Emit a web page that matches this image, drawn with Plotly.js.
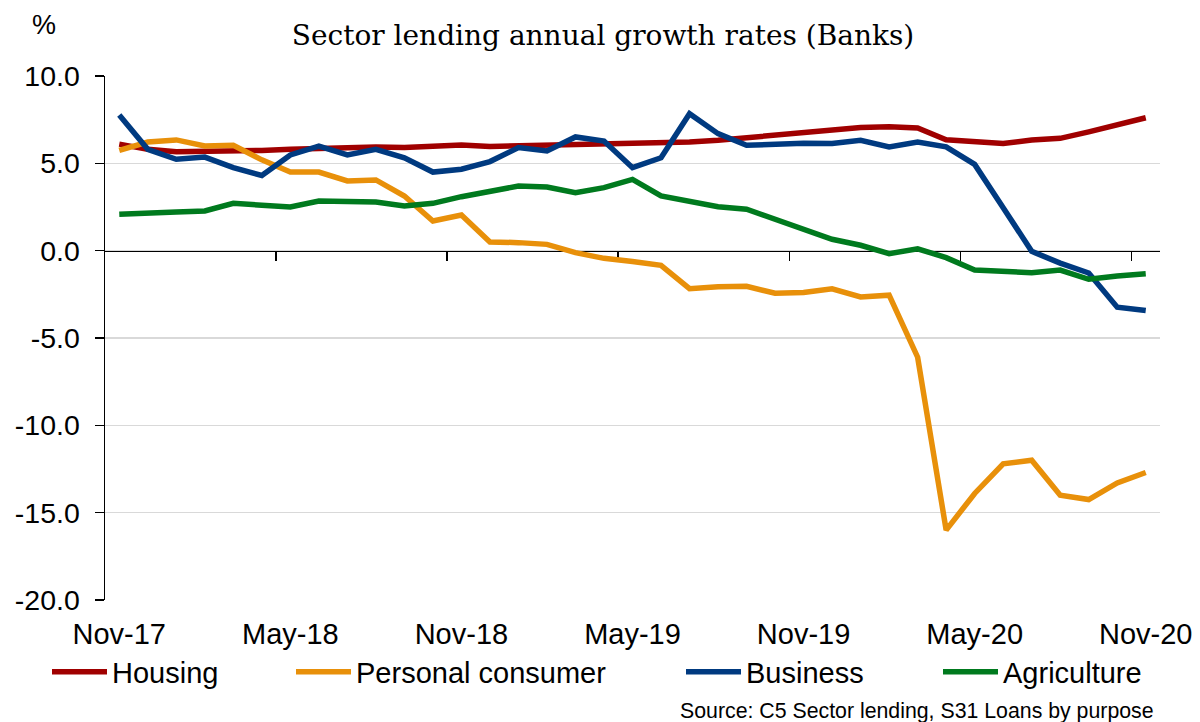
<!DOCTYPE html>
<html>
<head>
<meta charset="utf-8">
<script src="https://cdn.plot.ly/plotly-3.0.1.min.js"></script>
<style>html,body{margin:0;padding:0;background:#fff;}#chart{width:1200px;height:722px;}</style>
</head>
<body>
<div id="chart"></div>
<script>
const months = ['Nov-17','Dec-17','Jan-18','Feb-18','Mar-18','Apr-18','May-18','Jun-18','Jul-18','Aug-18','Sep-18','Oct-18',
  'Nov-18','Dec-18','Jan-19','Feb-19','Mar-19','Apr-19','May-19','Jun-19','Jul-19','Aug-19','Sep-19','Oct-19',
  'Nov-19','Dec-19','Jan-20','Feb-20','Mar-20','Apr-20','May-20','Jun-20','Jul-20','Aug-20','Sep-20','Oct-20','Nov-20'];
const tickLabels = ['Nov-17','May-18','Nov-18','May-19','Nov-19','May-20','Nov-20'];
const housing = [6.1,5.8,5.67,5.67,5.7,5.74,5.8,5.84,5.86,5.94,5.9,5.94,6.05,5.97,6.0,6.03,6.09,6.09,6.15,6.18,6.22,6.32,6.47,6.62,6.76,6.95,7.05,7.1,7.02,6.35,6.25,6.13,6.34,6.43,6.8,7.23,7.61];
const personal = [5.74,6.22,6.34,5.99,6.03,5.2,4.5,4.5,3.99,4.05,3.13,1.7,2.04,0.5,0.46,0.36,-0.11,-0.44,-0.62,-0.84,-2.18,-2.06,-2.04,-2.44,-2.4,-2.18,-2.65,-2.55,-6.1,-16.0,-13.9,-12.2,-12.0,-14.0,-14.25,-13.3,-12.7];
const business = [7.77,5.8,5.23,5.36,4.75,4.31,5.48,5.99,5.48,5.8,5.32,4.5,4.66,5.1,5.9,5.71,6.51,6.28,4.75,5.32,7.84,6.7,6.03,6.09,6.15,6.13,6.32,5.94,6.22,5.94,4.94,2.46,-0.04,-0.71,-1.28,-3.24,-3.43];
const agriculture = [2.08,2.18,2.21,2.27,2.71,2.6,2.5,2.84,2.79,2.79,2.56,2.71,3.09,3.42,3.7,3.64,3.32,3.61,4.08,3.13,2.84,2.52,2.37,1.79,1.22,0.65,0.31,-0.17,0.11,-0.4,-1.11,-1.22,-1.26,-1.11,-1.64,-1.45,-1.32];
const boundaryTicks = [5.5,11.5,17.5,23.5,29.5,35.5];

const LW = 5.5;
const traces = [
  {x: months, y: housing, name: 'Housing', type: 'scatter', mode: 'lines', line: {color: '#A00000', width: LW}, legend: 'legend'},
  {x: months, y: personal, name: 'Personal consumer', type: 'scatter', mode: 'lines', line: {color: '#E8900A', width: LW}, legend: 'legend2'},
  {x: months, y: business, name: 'Business', type: 'scatter', mode: 'lines', line: {color: '#003A80', width: LW}, legend: 'legend3'},
  {x: months, y: agriculture, name: 'Agriculture', type: 'scatter', mode: 'lines', line: {color: '#007A1E', width: LW}, legend: 'legend4'},
  {x: [0], y: [null], xaxis: 'x2', yaxis: 'y', showlegend: false, hoverinfo: 'skip', mode: 'lines'}
];

const legFont = {family: 'Liberation Sans, Arial, sans-serif', size: 29, color: '#000'};
function leg(x) {
  return {x: x, y: -0.1374, xanchor: 'left', yanchor: 'middle', orientation: 'h', font: legFont,
          bgcolor: 'rgba(0,0,0,0)', borderwidth: 0, itemwidth: 55, tracegroupgap: 0};
}

const layout = {
  width: 1200, height: 722,
  margin: {l: 105, r: 40, t: 76, b: 122},
  paper_bgcolor: '#fff', plot_bgcolor: '#fff',
  title: {text: 'Sector lending annual growth rates (Banks)', font: {family: 'DejaVu Serif, Liberation Serif, serif', size: 28, color: '#000'},
          x: 0.5025, xref: 'container', xanchor: 'center', y: 1 - 35/722, yref: 'container', yanchor: 'middle'},
  xaxis: {type: 'category', range: [-0.5, 36.5], tickmode: 'array', tickvals: tickLabels, ticktext: tickLabels,
          showgrid: false, zeroline: false, showline: false, ticks: '', ticklabelstandoff: 14,
          tickfont: {family: 'Liberation Sans, Arial, sans-serif', size: 29, color: '#000'}, fixedrange: true},
  xaxis2: {type: 'linear', overlaying: 'x', anchor: 'free', position: 2/3, range: [-0.5, 36.5],
           tickmode: 'array', tickvals: boundaryTicks, showticklabels: false, ticks: 'outside', ticklen: 9, tickwidth: 1.5, tickcolor: '#000',
           showline: true, linecolor: '#000', linewidth: 1.5, showgrid: false, zeroline: false, layer: 'below traces'},
  yaxis: {range: [-20, 10], tickmode: 'array', tickvals: [-20,-15,-10,-5,0,5,10], ticktext: ['-20.0','-15.0','-10.0','-5.0','0.0','5.0','10.0'],
          showgrid: true, gridcolor: '#d9d9d9', gridwidth: 1.5, zeroline: false, showline: true, linecolor: '#000', linewidth: 1.5,
          ticks: 'outside', ticklen: 9, tickwidth: 1.5, tickcolor: '#000', ticklabelstandoff: 9, layer: 'below traces',
          tickfont: {family: 'Liberation Sans, Arial, sans-serif', size: 28.5, color: '#000'}, fixedrange: true},
  legend: leg((47-105)/1055),
  legend2: leg((291-105)/1055),
  legend3: leg((681-105)/1055),
  legend4: leg((938-105)/1055),
  annotations: [
    {text: '%', xref: 'paper', yref: 'paper', x: (44-105)/1055, y: (600-25)/524, xanchor: 'center', yanchor: 'middle', showarrow: false,
     font: {family: 'Liberation Sans, Arial, sans-serif', size: 27, color: '#000'}},
    {text: 'Source: C5 Sector lending, S31 Loans by purpose', xref: 'paper', yref: 'paper', x: (1156-105)/1055, y: (600-711)/524,
     xanchor: 'right', yanchor: 'middle', showarrow: false, font: {family: 'Liberation Sans, Arial, sans-serif', size: 21.3, color: '#000'}}
  ],
  showlegend: true
};

Plotly.newPlot('chart', traces, layout, {displayModeBar: false, staticPlot: true});
</script>
</body>
</html>
